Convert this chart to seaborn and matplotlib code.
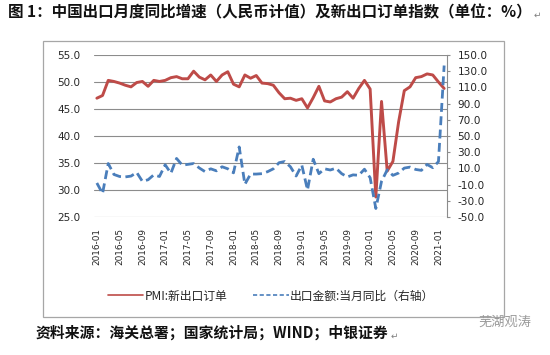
import numpy as np
import pandas as pd
import matplotlib
matplotlib.use("Agg")
import matplotlib.pyplot as plt
import seaborn as sns
from matplotlib.patches import Rectangle
from matplotlib.lines import Line2D
from matplotlib.font_manager import FontProperties

# ---------------- data ----------------
months = pd.date_range("2016-01-01", periods=62, freq="MS").strftime("%Y-%m").tolist()
tick_labels = ["2016-01", "2016-05", "2016-09", "2017-01", "2017-05", "2017-09",
               "2018-01", "2018-05", "2018-09", "2019-01", "2019-05", "2019-09",
               "2020-01", "2020-05", "2020-09", "2021-01"]

pmi_new_export_orders = [
    47.0, 47.5, 50.3, 50.1, 49.8, 49.4, 49.1, 49.9, 50.1, 49.2, 50.3, 50.1,   # 2016
    50.3, 50.8, 51.0, 50.6, 50.6, 52.0, 50.9, 50.4, 51.3, 50.1, 51.3, 51.9,   # 2017
    49.6, 49.1, 51.3, 50.7, 51.2, 49.8, 49.7, 49.4, 48.0, 46.9, 47.0, 46.6,   # 2018
    46.9, 45.2, 47.1, 49.2, 46.5, 46.3, 46.9, 47.2, 48.2, 47.0, 48.8, 50.3,   # 2019
    48.7, 28.7, 46.4, 33.5, 35.3, 42.6, 48.4, 49.1, 50.8, 51.0, 51.5, 51.3,   # 2020
    50.0, 48.8,                                                               # 2021
]

export_yoy_rmb = [
    -8.0, -21.0, 16.0, 2.5, 0.0, -0.5, 0.5, 5.0, -6.0, -4.0, 2.0, 0.0,        # 2016
    14.5, 4.0, 22.3, 14.0, 15.0, 16.0, 10.5, 6.0, 9.5, 7.0, 12.0, 9.5,        # 2017
    4.5, 36.5, -9.6, 3.0, 3.0, 3.5, 6.0, 9.5, 17.0, 18.5, 12.0, 0.6,          # 2018
    14.0, -16.6, 21.3, 3.5, 9.5, 8.0, 10.3, 3.5, -0.5, 2.0, 1.5, 9.0,         # 2019
    -1.5, -39.5, -6.0, 8.2, 1.4, 4.3, 10.4, 11.6, 8.7, 7.6, 14.9, 10.9,       # 2020
    18.4, 137.0,                                                              # 2021
]

left_ticks = [25, 30, 35, 40, 45, 50, 55]
right_ticks = [-50, -30, -10, 10, 30, 50, 70, 90, 110, 130, 150]

title = "图 1：中国出口月度同比增速（人民币计值）及新出口订单指数（单位：%）"
legend_labels = ["PMI:新出口订单", "出口金额:当月同比（右轴）"]
source = "资料来源：海关总署；国家统计局；WIND；中银证券"
watermark = "芜湖观涛"

df = pd.DataFrame({"pos": np.arange(len(months)), "month": months,
                   "pmi": pmi_new_export_orders, "exp": export_yoy_rmb})

# ---------------- style ----------------
sns.set_theme(style="white")
plt.rcParams["font.family"] = ["DejaVu Sans", "Noto Sans CJK SC"]
CJK = ["Noto Sans CJK SC", "DejaVu Sans"]

RED = "#BE4B48"
BLUE = "#4A7EBB"
GRID = "#8C8C8C"
TXT = "#262626"

W, H = 550, 355
fig = plt.figure(figsize=(W / 100, H / 100), dpi=100)
fig.patch.set_facecolor("white")


def fx(x):
    return x / W


def fy(y):
    return 1 - y / H


# outer chart frame
fig.patches.append(Rectangle((fx(43), fy(317)), fx(504) - fx(43), fy(41) - fy(317),
                             transform=fig.transFigure, fill=False,
                             edgecolor="#A6A6A6", lw=0.9))

ax = fig.add_axes([fx(94), fy(217), fx(447) - fx(94), fy(55) - fy(217)])
ax.patch.set_alpha(0)

sns.lineplot(data=df, x="pos", y="pmi", ax=ax, color=RED, linewidth=2.1, legend=False)
ax.set_xlim(-0.5, len(months) - 0.5)
ax.set_ylim(25, 55)
ax.set_yticks(left_ticks)
ax.set_yticklabels([f"{v:.1f}" for v in left_ticks], fontsize=7.5, color=TXT)
ax.yaxis.grid(True, color=GRID, linewidth=0.8)
ax.set_axisbelow(True)
ax.tick_params(axis="y", length=0, pad=10)
tick_pos = [months.index(t) for t in tick_labels]
ax.set_xticks(tick_pos)
ax.set_xticklabels(tick_labels, rotation=90, fontsize=6.4, color=TXT)
ax.tick_params(axis="x", length=0, pad=8)
ax.set_xlabel("")
ax.set_ylabel("")
for s in ["left", "top", "right", "bottom"]:
    ax.spines[s].set_visible(False)

ax2 = ax.twinx()
sns.lineplot(data=df, x="pos", y="exp", ax=ax2, color=BLUE, linewidth=2.0,
             linestyle=(0, (3.2, 1.6)), legend=False)
ax2.set_ylim(-50, 150)
ax2.set_yticks(right_ticks)
ax2.set_yticklabels([f"{v:.1f}" for v in right_ticks], fontsize=7.6, color=TXT)
ax2.tick_params(axis="y", length=2.5, width=0.8, color=GRID, direction="out", pad=5)
ax2.set_ylabel("")
ax2.set_xlabel("")
for s in ["left", "top", "bottom"]:
    ax2.spines[s].set_visible(False)
ax2.spines["right"].set_color(GRID)
ax2.spines["right"].set_linewidth(0.8)
ax2.set_xlim(-0.5, len(months) - 0.5)

# legend
handles = [Line2D([], [], color=RED, lw=1.2),
           Line2D([], [], color=BLUE, lw=1.2, linestyle=(0, (2.5, 1.5)))]
fig.legend(handles, legend_labels, loc="center", bbox_to_anchor=(fx(271), fy(296)),
           ncol=2, frameon=False, prop=FontProperties(family=CJK, size=8.5),
           handlelength=3.0, handletextpad=0.1, columnspacing=2.2, labelcolor=TXT)

# title and source
t1 = fig.text(fx(8), fy(12), title, ha="left", va="center", fontsize=11.2,
              fontweight="bold", family=CJK, color="#111111")
t2 = fig.text(fx(36), fy(333), source, ha="left", va="center", fontsize=10.7,
              fontweight="bold", family=CJK, color="#111111")
fig.text(fx(478), fy(322), watermark, ha="left", va="center", fontsize=9.5,
         family=CJK, color="#9A9A9A")

fig.canvas.draw()
rend = fig.canvas.get_renderer()
inv = fig.transFigure.inverted()
for t, dy in [(t1, 3), (t2, 3)]:
    bb = t.get_window_extent(rend)
    x1, yc = inv.transform((bb.x1 + 2, (bb.y0 + bb.y1) / 2 - dy))
    fig.text(x1, yc, "\u21b5", ha="left", va="center", fontsize=6.5,
             family=["DejaVu Sans"], color="#7F7F7F")

fig.savefig("out.png", dpi=100, facecolor="white")
